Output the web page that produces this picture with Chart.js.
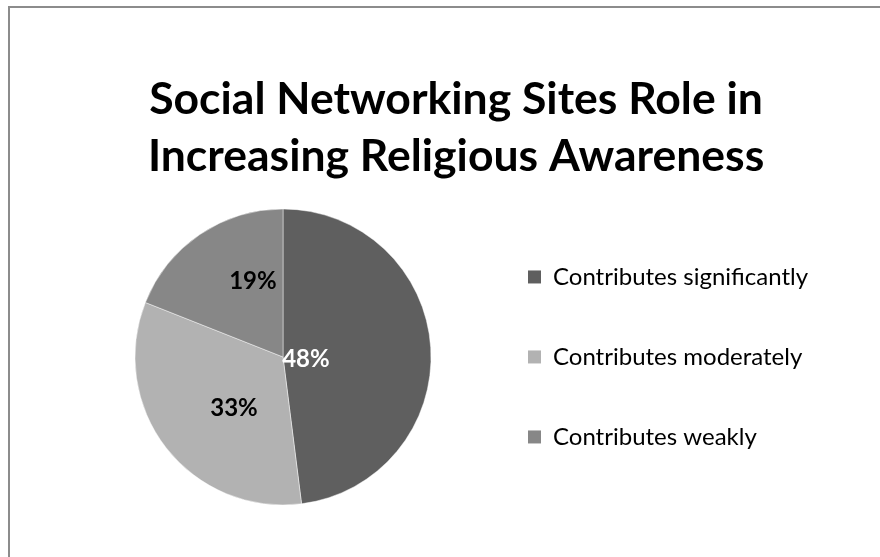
<!DOCTYPE html>
<html>
<head>
<meta charset="utf-8">
<script src="https://cdn.jsdelivr.net/npm/chart.js@4.4.1/dist/chart.umd.min.js"></script>
<style>
  html, body { margin: 0; padding: 0; background: #ffffff; }
  #wrap { width: 880px; height: 557px; }
</style>
</head>
<body>
<div id="wrap"><canvas id="chart" width="880" height="557"></canvas></div>
<script>
// Survey answers and their shares (percent)
const categories = ['Contributes significantly', 'Contributes moderately', 'Contributes weakly'];
const shares = [48, 33, 19];
const sliceColors = ['#5f5f5f', '#b2b2b2', '#878787'];
const labelColors = ['#ffffff', '#000000', '#000000'];
const titleLines = ['Social Networking Sites Role in', 'Increasing Religious Awareness'];

const FONT = "Lato, 'Noto Sans', sans-serif";
const LEGEND_SIZE = 24;
const LEGEND_BOX = 13;
const LEGEND_GAP = 56;       // vertical gap between legend rows (and left inset)
const LEGEND_LEFT = 472;     // left edge of the legend block
const PIE_LEFT = 94;         // left edge of the pie's plotting area

// Widest legend entry, so the legend block gets exactly the room it needs
const measureCtx = document.createElement('canvas').getContext('2d');
measureCtx.font = LEGEND_SIZE + 'px ' + FONT;
const widestLabel = Math.max(...categories.map(c => measureCtx.measureText(c).width));
const legendWidth = LEGEND_GAP + LEGEND_BOX + LEGEND_SIZE / 2 + widestLabel + 10;
const rightPad = Math.max(0, 880 - LEGEND_LEFT - legendWidth);

// Thin grey frame around the chart
const framePlugin = {
  id: 'frame',
  beforeDraw(chart) {
    const ctx = chart.ctx;
    ctx.save();
    ctx.strokeStyle = '#8c8c8c';
    ctx.lineWidth = 2;
    ctx.strokeRect(9, 7, chart.width + 20, chart.height + 20);
    ctx.restore();
  }
};

// Percentage labels placed inside each slice, relative to the pie radius
const sliceLabelPlugin = {
  id: 'sliceLabels',
  afterDatasetsDraw(chart, args, opts) {
    const ctx = chart.ctx;
    const meta = chart.getDatasetMeta(0);
    const values = chart.data.datasets[0].data;
    ctx.save();
    ctx.font = opts.font;
    ctx.textAlign = 'center';
    ctx.textBaseline = 'middle';
    meta.data.forEach((arc, i) => {
      const p = arc.getProps(['x', 'y', 'outerRadius'], true);
      const [fx, fy] = opts.anchors[i];
      ctx.fillStyle = opts.colors[i];
      ctx.fillText(values[i] + '%', p.x + fx * p.outerRadius, p.y + fy * p.outerRadius);
    });
    ctx.restore();
  }
};

const defaultLabels = Chart.overrides.pie.plugins.legend.labels.generateLabels;

new Chart(document.getElementById('chart'), {
  type: 'pie',
  data: {
    labels: categories,
    datasets: [{
      data: shares,
      backgroundColor: sliceColors,
      borderColor: 'rgba(255,255,255,0.45)',
      borderWidth: 1,
      radius: 148
    }]
  },
  options: {
    responsive: false,
    animation: false,
    layout: { padding: { left: PIE_LEFT, right: rightPad, top: 0, bottom: 33 } },
    plugins: {
      tooltip: { enabled: false },
      title: {
        display: true,
        text: titleLines,
        color: '#000000',
        font: { family: FONT, size: 44.5, weight: 'bold', lineHeight: 1.28 },
        padding: { top: 71.5, bottom: 4.5 }
      },
      legend: {
        position: 'right',
        fullSize: false,
        labels: {
          color: '#000000',
          font: { family: FONT, size: LEGEND_SIZE },
          boxWidth: LEGEND_BOX,
          boxHeight: LEGEND_BOX,
          padding: LEGEND_GAP,
          generateLabels(chart) {
            return defaultLabels(chart).map(item => Object.assign(item, { lineWidth: 0, strokeStyle: 'rgba(0,0,0,0)' }));
          }
        }
      },
      sliceLabels: {
        font: "bold 24px " + FONT,
        colors: labelColors,
        anchors: [[0.155, 0.014], [-0.331, 0.345], [-0.203, -0.514]]
      }
    }
  },
  plugins: [framePlugin, sliceLabelPlugin]
});
</script>
</body>
</html>
